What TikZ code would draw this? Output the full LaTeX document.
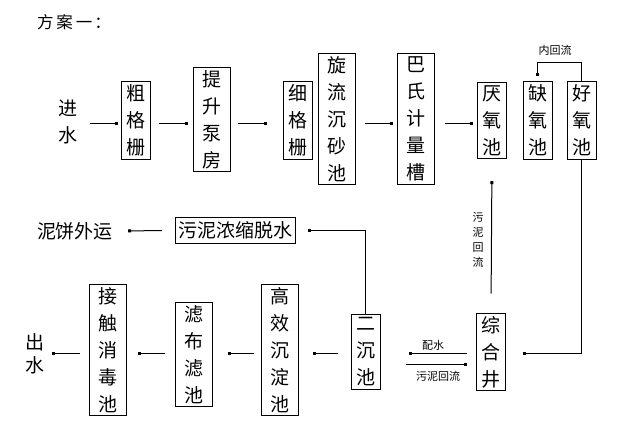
\documentclass[tikz,border=0pt]{standalone}
\usepackage{fontspec}
\newfontfamily\cjk{Noto Sans CJK SC}
\usetikzlibrary{arrows.meta}
\newcommand{\bigcn}{\cjk\fontsize{19}{27}\selectfont}
\newcommand{\smallcn}{\cjk\fontsize{11}{15}\selectfont}
\tikzset{
  vbox/.style = {draw, line width = 1pt, inner xsep = 0pt, inner ysep = 3pt, minimum width = 29pt, align = center, font = \bigcn},
  wide/.style = {minimum width = 37pt},
  txt/.style = {inner sep = 0pt, align = center, font = \bigcn},
  lbl/.style = {inner sep = 0pt, align = center, font = \smallcn},
  flow/.style = {line width = 1pt, -{Square[length = 3pt, width = 3pt]}}
}
\begin{document}
\begin{tikzpicture}[x = 1pt, y = -1pt]
            \useasboundingbox (0, 0) rectangle (622, 422);
            \coordinate (top) at (0, 124);
            \coordinate (row) at (0, 354);
            \coordinate (low) at (0, 365);
            \node [txt, font = \cjk\fontsize{16.5}{20}\selectfont] (title) at (74, 22) {方\hspace{3pt}案\hspace{3pt}一\hspace{2pt}：};

            % top row
            \node [txt] (jins) at (68, 122) {进\\水};
            \node [vbox] (cgs) at (135.5, 120.5) {粗\\格\\栅};
            \node [vbox, wide] (tsbf) at (211.5, 119.5) {提\\升\\泵\\房};
            \node [vbox] (xgs) at (297.5, 120.5) {细\\格\\栅};
            \node [vbox, wide] (xlcs) at (336.5, 119) {旋\\流\\沉\\砂\\池};
            \node [vbox, wide] (bsjl) at (415.5, 119) {巴\\氏\\计\\量\\槽};
            \node [vbox] (yyc) at (492, 120.5) {厌\\氧\\池};
            \node [vbox] (qyc) at (537.5, 120.5) {缺\\氧\\池};
            \node [vbox] (hyc) at (581.5, 120.5) {好\\氧\\池};
            \node [lbl] (nhl) at (555, 50) {内回流};

            \draw [flow, shorten <= 12pt, shorten >= 3pt] (jins.east |- top) -- (cgs.west |- top);
            \draw [flow, shorten <= 8pt, shorten >= 5pt] (cgs.east |- top) -- (tsbf.west |- top);
            \draw [flow, shorten <= 7pt, shorten >= 16pt] (tsbf.east |- top) -- (xgs.west |- top);
            \draw [flow, shorten <= 9pt, shorten >= 4pt] (xlcs.east |- top) -- (bsjl.west |- top);
            \draw [flow, shorten <= 10pt, shorten >= 4pt] (bsjl.east |- top) -- (yyc.west |- top);
            \draw [flow, shorten >= 5pt] (hyc.north) -- ++(0, -19) -| (qyc.north);

            % sludge line
            \node [txt] (nbwy) at (75, 231) {泥饼外运};
            \node [vbox, inner xsep = 3pt, inner ysep = 4pt] (wnns) at (235.5, 230.5) {污泥浓缩脱水};

            % bottom row
            \node [txt, font = \cjk\fontsize{19}{23}\selectfont] (chus) at (35, 354) {出\\水};
            \node [vbox, wide] (jcxd) at (107.5, 350) {接\\触\\消\\毒\\池};
            \node [vbox, wide] (lblc) at (194, 354.5) {滤\\布\\滤\\池};
            \node [vbox, wide] (gxcd) at (280, 350) {高\\效\\沉\\淀\\池};
            \node [vbox] (ecc) at (365.5, 352) {二\\沉\\池};
            \node [vbox] (zhj) at (491, 352) {综\\合\\井};
            \node [lbl] (ps) at (433, 345) {配水};
            \node [lbl] (wnhl) at (438, 376) {污泥回流};
            \node [lbl] (wnhl2) at (478, 240) {污\\泥\\回\\流};

            \draw [flow, shorten >= 17pt] (hyc.south) |- (zhj.east |- row);
            \draw [flow, shorten <= 9pt, shorten >= 28pt] (zhj.west |- row) -- (ecc.east |- row);
            \draw [flow, shorten <= 25pt, shorten >= 9pt] (ecc.east |- low) -- (zhj.west |- low);
            \draw [flow, shorten <= 19pt, shorten >= 22pt] (zhj.north) -- (yyc.south);
            \draw [flow, shorten >= 12pt] (ecc.north) |- (wnns.east);
            \draw [flow, shorten <= 13pt, shorten >= 15pt] (wnns.west) -- (nbwy.east);
            \draw [flow, shorten <= 13pt, shorten >= 14pt] (ecc.west |- row) -- (gxcd.east |- row);
            \draw [flow, shorten <= 7pt, shorten >= 15pt] (gxcd.west |- row) -- (lblc.east |- row);
            \draw [flow, shorten <= 10pt, shorten >= 11pt] (lblc.west |- row) -- (jcxd.east |- row);
            \draw [flow, shorten <= 9pt, shorten >= 7pt] (jcxd.west |- row) -- (chus.east |- row);
        \end{tikzpicture}
\end{document}
